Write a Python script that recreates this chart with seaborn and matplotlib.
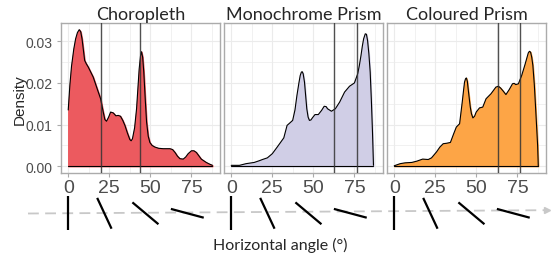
import numpy as np
import pandas as pd
import matplotlib
matplotlib.use("Agg")
import matplotlib.pyplot as plt
import seaborn as sns

###-------DATA------###

panels = ["Choropleth", "Monochrome Prism", "Coloured Prism"]
fills = ["#EC5A5F", "#D0CEE6", "#FDA546"]

choro_x = [0, 0.5, 1, 2, 3.4, 4.5, 5.6, 6.7, 7.6, 8.4, 9.2, 10, 11, 12.2, 15.2, 18.3, 19.7,
           21.2, 22.3, 23.3, 24.6, 25.8, 27.4, 29, 30.4, 31.8, 33.2, 34.5, 36, 37.5, 38.3,
           39.1, 40.4, 41.6, 42.5, 43.2, 44, 44.6, 45.3, 46, 46.9, 47.7, 48.7, 49.7, 51,
           52.7, 55, 57.8, 61.9, 63.5, 65, 66.5, 68, 70, 71.5, 73, 75, 76.5, 78, 79.5, 81,
           84, 86, 87.8]
choro_y = [0.0135, 0.0165, 0.0195, 0.0240, 0.0282, 0.0306, 0.0321, 0.0328, 0.0323, 0.0306,
           0.0280, 0.0254, 0.0246, 0.0238, 0.0214, 0.0178, 0.0162, 0.0132, 0.0112, 0.0108,
           0.0118, 0.0130, 0.0128, 0.0121, 0.0122, 0.0120, 0.0110, 0.0098, 0.0080, 0.0064,
           0.0061, 0.0066, 0.0092, 0.0138, 0.0192, 0.0234, 0.0265, 0.0275, 0.0262, 0.0226,
           0.0160, 0.0106, 0.0072, 0.0057, 0.0050, 0.0046, 0.0043, 0.0042, 0.0042, 0.0040,
           0.0033, 0.0024, 0.0018, 0.0017, 0.0022, 0.0030, 0.0037, 0.0037, 0.0033, 0.0025,
           0.0017, 0.0009, 0.0005, 0.0002]

mono_x = [0, 5, 9, 14, 17, 19, 22, 25, 28, 30, 32, 34, 36, 37.4, 38.8, 40, 41.2, 42, 42.7,
          43.2, 43.8, 44.6, 45.3, 46, 46.8, 47.6, 48.5, 49.4, 51, 53, 55, 56.6, 57.8, 58.6,
          61, 63.4, 66, 69, 72, 75, 77, 78, 79, 79.8, 80.6, 81.6, 82.3, 83, 83.8, 84.6, 85.3,
          86, 86.6]
mono_y = [0.0002, 0.0002, 0.0006, 0.0009, 0.0013, 0.0016, 0.0020, 0.0030, 0.0046, 0.0057,
          0.0068, 0.0098, 0.0105, 0.0110, 0.0135, 0.0170, 0.0200, 0.0218, 0.0226, 0.0227,
          0.0222, 0.0202, 0.0170, 0.0138, 0.0118, 0.0110, 0.0111, 0.0116, 0.0124, 0.0124,
          0.0134, 0.0144, 0.0143, 0.0138, 0.0132, 0.0138, 0.0154, 0.0178, 0.0192, 0.0200,
          0.0222, 0.0242, 0.0266, 0.0288, 0.0306, 0.0318, 0.0317, 0.0302, 0.0270, 0.0226,
          0.0160, 0.0082, 0.0002]

col_x = [0, 3.6, 6.6, 10.7, 13.7, 17.3, 20.7, 22.7, 25.7, 27.8, 29.8, 31.8, 34.2, 36.2,
         37.8, 39.8, 41.4, 42.2, 42.8, 43.4, 43.9, 44.5, 45, 45.7, 46.3, 47, 47.9, 48.9,
         49.9, 51.9, 53.9, 55.9, 58.9, 61.9, 63.4, 64.7, 66, 68, 70, 72, 73, 74, 75.6, 77.6,
         79.6, 81.6, 82.3, 83, 83.7, 84.4, 85.3, 86.1, 87.3, 87.7]
col_y = [0.0001, 0.0006, 0.0008, 0.0009, 0.0012, 0.0017, 0.0016, 0.0020, 0.0034, 0.0046,
         0.0054, 0.0055, 0.0057, 0.0078, 0.0094, 0.0102, 0.0154, 0.0182, 0.0202, 0.0210,
         0.0212, 0.0204, 0.0186, 0.0162, 0.0142, 0.0126, 0.0116, 0.0120, 0.0130, 0.0140,
         0.0142, 0.0162, 0.0174, 0.0190, 0.0192, 0.0188, 0.0182, 0.0172, 0.0184, 0.0198,
         0.0199, 0.0196, 0.0198, 0.0218, 0.0244, 0.0272, 0.0276, 0.0274, 0.0262, 0.0242,
         0.0195, 0.0138, 0.0050, 0.0]

vlines = [[19.7, 44.0], [62.8, 76.6], [63.4, 76.4]]

angles = [0, 25, 50, 75]           # glyph angles shown under each panel
glyph_x = [0, 22, 47, 72.5]        # where the glyphs sit on the angle axis

df = pd.concat([
    pd.DataFrame({"angle": choro_x, "density": choro_y, "map": panels[0]}),
    pd.DataFrame({"angle": mono_x, "density": mono_y, "map": panels[1]}),
    pd.DataFrame({"angle": col_x, "density": col_y, "map": panels[2]}),
])

###-------PLOT------###

sns.set_style("white")
plt.rcParams["font.family"] = ["Liberation Sans", "DejaVu Sans"]

W, H = 552, 255
fig = plt.figure(figsize=(W / 100, H / 100), dpi=100)

lefts = [61, 224, 387]
pw, top, bottom = 159, 24, 174
xlim = (-4.4, 92.4)
ylim = (-0.00164, 0.0344)
grid_c = "#EBEBEB"

axes = []
for i, name in enumerate(panels):
    ax = fig.add_axes([lefts[i] / W, 1 - bottom / H, pw / W, (bottom - top) / H])
    axes.append(ax)
    sub = df[df["map"] == name]

    ax.set_xticks([0, 25, 50, 75])
    ax.set_xticks([12.5, 37.5, 62.5, 87.5], minor=True)
    ax.set_yticks([0, 0.01, 0.02, 0.03])
    ax.set_yticks([0.005, 0.015, 0.025], minor=True)
    ax.grid(True, which="major", color=grid_c, lw=0.8)
    ax.grid(True, which="minor", color=grid_c, lw=0.5)
    ax.set_axisbelow(True)

    ax.fill_between(sub["angle"], sub["density"], 0, color=fills[i], zorder=2)
    sns.lineplot(data=sub, x="angle", y="density", ax=ax, color="black", lw=0.8,
                 zorder=3, sort=False)
    ax.plot([sub["angle"].iloc[0], sub["angle"].iloc[-1]], [0, 0], color="black",
            lw=0.8, zorder=3)
    for v in vlines[i]:
        ax.axvline(v, color="#333333", lw=1.0, alpha=0.85, zorder=4)

    ax.set_xlim(*xlim)
    ax.set_ylim(*ylim)
    ax.set_xlabel("")
    ax.set_ylabel("")
    for s in ax.spines.values():
        s.set_color("#ABABAB")
        s.set_linewidth(1.0)
    ax.tick_params(axis="x", which="major", length=3, width=0.8, color="#ABABAB",
                   labelsize=14, labelcolor="#4D4D4D", pad=1.5, bottom=True)
    ax.tick_params(axis="y", which="major", length=3, width=0.8, color="#ABABAB",
                   labelsize=10, labelcolor="#4D4D4D", pad=3, left=(i == 0))
    ax.tick_params(which="minor", length=0)
    ax.set_xticklabels(["0", "25", "50", "75"])
    if i == 0:
        ax.set_yticklabels(["0.00", "0.01", "0.02", "0.03"])
    else:
        ax.set_yticklabels([])
    ax.set_title(name, fontsize=13, pad=3, family=["Lato", "DejaVu Sans"])

fig.text(20 / W, 1 - 100 / H, "Density", rotation=90, ha="center", va="center",
         fontsize=11)

# overlay in pixel coordinates for the angle glyphs and arrow
ov = fig.add_axes([0, 0, 1, 1], facecolor="none")
ov.set_xlim(0, W)
ov.set_ylim(H, 0)
ov.axis("off")

ov.plot([28, 545], [214.5, 211.2], color="#C8C8C8", lw=1.3, ls=(0, (6, 3.5)))
ov.plot([547], [211.1], marker=">", color="#C8C8C8", ms=5)

half = 17
cy = 214.3
for ax in axes:
    for a, gx in zip(angles, glyph_x):
        px = ax.transData.transform((gx, 0))[0]
        cx = ov.transData.inverted().transform((px, 0))[0]
        t = np.deg2rad(a)
        ov.plot([cx - half * np.sin(t), cx + half * np.sin(t)],
                [cy - half * np.cos(t), cy + half * np.cos(t)],
                color="black", lw=1.6, solid_capstyle="butt")

ov.text(280, 245, "Horizontal angle (°)", ha="center", va="center", fontsize=11.5,
        family=["Lato", "DejaVu Sans"])

fig.savefig("out.png", dpi=100)
